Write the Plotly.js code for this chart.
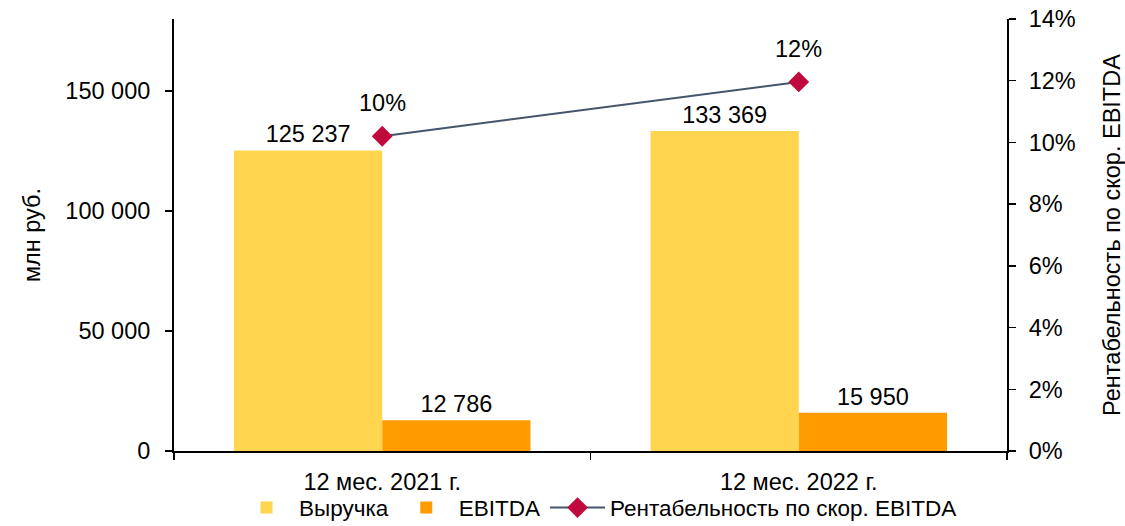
<!DOCTYPE html>
<html><head><meta charset="utf-8">
<script src="https://cdn.plot.ly/plotly-3.0.1.min.js"></script>
<style>html,body{margin:0;padding:0;background:#fff}#chart{width:1125px;height:526px}</style>
</head><body><div id="chart"></div>
<script>
const categories = ["12 мес. 2021 г.", "12 мес. 2022 г."];
const revenue = [125237, 133369];
const ebitda = [12786, 15950];
const margin = [0.102, 0.1196];
const marginLabels = ["10%", "12%"];
const seriesNames = ["Выручка", "EBITDA", "Рентабельность по скор. EBITDA"];

const FONT = "Liberation Sans, Arial, sans-serif";
const FS = 23.5;
const traces = [
  {type:'bar', name:seriesNames[0], x:categories, y:revenue, marker:{color:'#FFD44F'},
   texttemplate:'%{y:,.0f}', textposition:'outside', cliponaxis:false, constraintext:'none',
   textfont:{size:FS, color:'#000', family:FONT}, hoverinfo:'none'},
  {type:'bar', name:seriesNames[1], x:categories, y:ebitda, marker:{color:'#FF9C00'},
   texttemplate:'%{y:,.0f}', textposition:'outside', cliponaxis:false, constraintext:'none',
   textfont:{size:FS, color:'#000', family:FONT}, hoverinfo:'none'},
  {type:'scatter', mode:'lines+markers', name:seriesNames[2], x:categories, y:margin, yaxis:'y2',
   line:{color:'#44546A', width:2}, marker:{symbol:'diamond', size:16, color:'#C00A3E'},
   cliponaxis:false, hoverinfo:'none'}
];
const annotations = categories.map((c,i)=>({x:c, y:margin[i], xref:'x', yref:'y2', text:marginLabels[i],
  showarrow:false, yanchor:'middle', yshift:33, font:{size:FS, color:'#000', family:FONT}}));

const layout = {
  width:1125, height:526,
  margin:{l:174, r:118, t:19, b:75, autoexpand:false},
  paper_bgcolor:'#fff', plot_bgcolor:'#fff',
  font:{family:FONT, size:FS, color:'#000'},
  separators:', ',
  barmode:'group', bargap:0.288, bargroupgap:0,
  showlegend:true,
  legend:{orientation:'h', x:0.509, xanchor:'center', y:-0.082, yanchor:'top',
    bgcolor:'rgba(0,0,0,0)', font:{size:22.5, color:'#000'}, traceorder:'normal', itemwidth:55},
  xaxis:{type:'category', showline:true, linecolor:'#000', linewidth:2, ticks:'outside',
    tickson:'boundaries', ticklen:7, tickwidth:1.5, tickcolor:'#000', showgrid:false, zeroline:false,
    tickfont:{size:FS}, ticklabelstandoff:9},
  yaxis:{range:[0,180000], tickvals:[0,50000,100000,150000], tickformat:',.0f', showline:true,
    linecolor:'#000', linewidth:2, ticks:'outside', ticklen:7, tickwidth:1.5, tickcolor:'#000',
    showgrid:false, zeroline:false, tickfont:{size:FS}, ticklabelstandoff:10,
    title:{text:'млн руб.', font:{size:FS}, standoff:18}},
  yaxis2:{range:[0,0.14], dtick:0.02, tickformat:'.0%', overlaying:'y', side:'right',
    showline:true, linecolor:'#000', linewidth:2, ticks:'outside', ticklen:7, tickwidth:1.5,
    tickcolor:'#000', showgrid:false, zeroline:false, tickfont:{size:FS}, ticklabelstandoff:8,
    title:{text:'Рентабельность по скор. EBITDA', font:{size:FS}, standoff:30}},
  annotations:annotations
};
Plotly.newPlot('chart', traces, layout, {displayModeBar:false, staticPlot:true});
</script></body></html>
